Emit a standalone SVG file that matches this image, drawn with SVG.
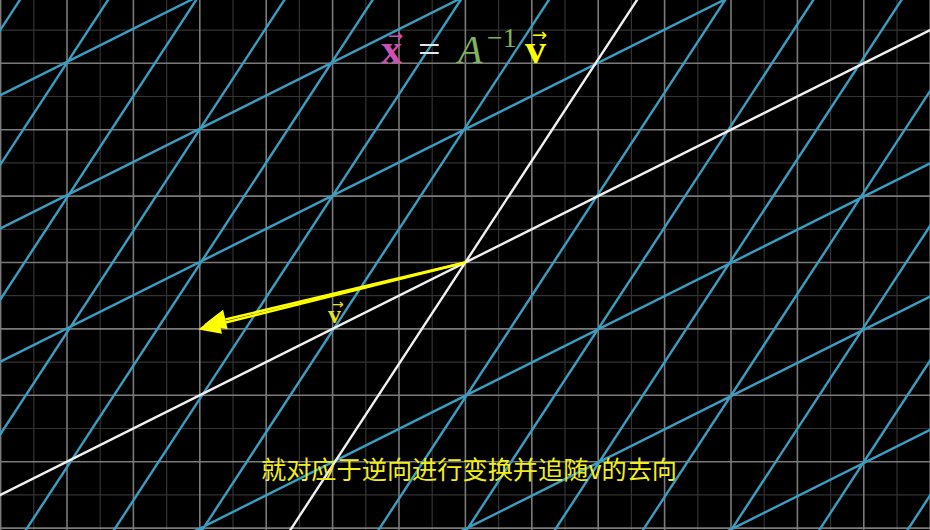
<svg xmlns="http://www.w3.org/2000/svg" width="930" height="530" viewBox="0 0 930 530">
<style>
.minor{stroke:#333333;stroke-width:1.2;fill:none}
.major{stroke:#7a7a7a;stroke-width:1.6;fill:none}
.blue{stroke:#3a9ec2;stroke-width:2.4;fill:none}
.white{stroke:#f0f0f0;stroke-width:2.4;fill:none}
.eq{font-family:"Liberation Serif","DejaVu Serif",serif}
.acc{font-family:"DejaVu Sans",sans-serif}
.vec{stroke:#ffff00;stroke-width:2.6;fill:none}
.head{fill:#ffff00}
</style>
<rect width="930" height="530" fill="#000"/>
<g id="grid">
<path class="minor" d="M33.8 0V530M100.2 0V530M166.6 0V530M233 0V530M299.4 0V530M365.8 0V530M432.2 0V530M498.6 0V530M565 0V530M631.4 0V530M697.8 0V530M764.2 0V530M830.6 0V530M897 0V530M0 30.1H930M0 96.5H930M0 162.9H930M0 229.3H930M0 295.7H930M0 362.1H930M0 428.5H930M0 494.9H930"/>
<path class="major" d="M0.6 0V530M67 0V530M133.4 0V530M199.8 0V530M266.2 0V530M332.6 0V530M399 0V530M465.4 0V530M531.8 0V530M598.2 0V530M664.6 0V530M731 0V530M797.4 0V530M863.8 0V530M930.2 0V530M0 63.3H930M0 129.7H930M0 196.1H930M0 262.5H930M0 328.9H930M0 395.3H930M0 461.7H930M0 528.1H930"/>
</g>
<g id="transformed-grid" transform="matrix(131 -65.5 129.5 -198 465.3 262.5)">
<path class="blue" vector-effect="non-scaling-stroke" d="M-12 -4H12M-12 -3H12M-12 -2H12M-12 -1H12M-12 1H12M-12 2H12M-12 3H12M-12 4H12M-8 -6V6M-7 -6V6M-6 -6V6M-5 -6V6M-4 -6V6M-3 -6V6M-2 -6V6M-1 -6V6M1 -6V6M2 -6V6M3 -6V6M4 -6V6M5 -6V6M6 -6V6M7 -6V6M8 -6V6"/>
<path class="white" vector-effect="non-scaling-stroke" d="M-12 0H12M0 -6V6"/>
</g>
<g id="vector-v">
<line class="vec" x1="465.3" y1="262.5" x2="225.4" y2="319.5"/>
<line class="vec" x1="465.3" y1="262.5" x2="219.6" y2="324.1"/>
<polygon class="head" points="204,324.6 227.7,329.2 223.1,309.8"/>
<polygon class="head" points="198.3,329.5 222.1,333.8 217.2,314.4"/>
</g>
<g id="label-v">
<text fill="#e8e020"><tspan class="eq" x="328" y="323" font-size="26" font-weight="bold">v</tspan><tspan class="acc" x="332" y="309" font-size="14">→</tspan></text>
</g>
<g id="equation">
<text fill="#d050b4"><tspan class="eq" x="381" y="63" font-size="42" font-weight="bold">x</tspan><tspan class="acc" x="388" y="42" font-size="18">→</tspan></text>
<text class="eq" x="418" y="63" font-size="40" fill="#e6e6e6">=</text>
<text fill="#80b060"><tspan class="eq" x="458" y="63" font-size="40" font-style="italic">A</tspan><tspan class="eq" x="487" y="47" font-size="28">−1</tspan></text>
<text fill="#ffff00"><tspan class="eq" x="525" y="63" font-size="42" font-weight="bold">v</tspan><tspan class="acc" x="532" y="41" font-size="18">→</tspan></text>
</g>
<g id="subtitle">
<text x="469" y="479" font-size="25.2" text-anchor="middle" fill="#f2ee1c" font-family="'Noto Sans CJK SC','Noto Sans',sans-serif">就对应于逆向进行变换并追随v的去向</text>
</g>
</svg>
